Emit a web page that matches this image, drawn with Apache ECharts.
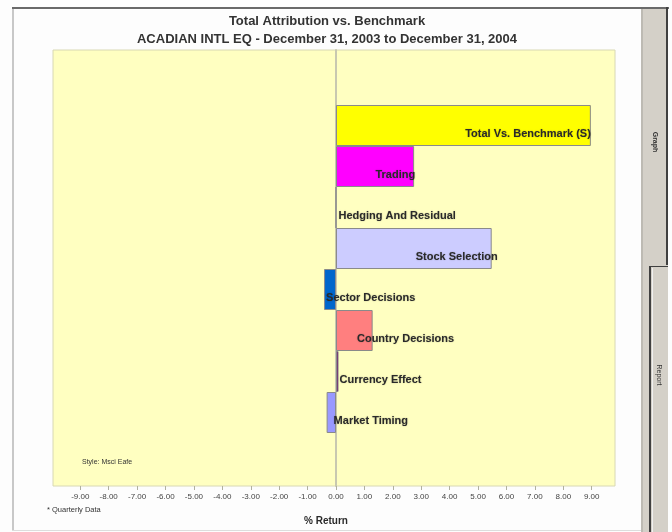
<!DOCTYPE html>
<html>
<head>
<meta charset="utf-8">
<script src="https://cdn.jsdelivr.net/npm/echarts@6/dist/echarts.min.js"></script>
<style>
html,body{margin:0;padding:0;background:#ffffff;}
#chart{width:672px;height:532px;}
</style>
</head>
<body>
<div id="chart"></div>
<script>
// ---- data ----
const titleLine1 = 'Total Attribution vs. Benchmark';
const titleLine2 = 'ACADIAN INTL EQ - December 31, 2003 to December 31, 2004';
const categories = ['Total Vs. Benchmark (S)', 'Trading', 'Hedging And Residual', 'Stock Selection',
  'Sector Decisions', 'Country Decisions', 'Currency Effect', 'Market Timing'];
const values = [8.97, 2.75, 0, 5.48, -0.42, 1.29, 0.09, -0.33];
const tickValues = [-9, -8, -7, -6, -5, -4, -3, -2, -1, 0, 1, 2, 3, 4, 5, 6, 7, 8, 9];
const axisTitle = '% Return';
const footNote = '* Quarterly Data';
const styleNote = 'Style: Msci Eafe';
const tabLabels = ['Graph', 'Report'];

// ---- styles (kept separate from data) ----
const barColors = ['#FFFF00', '#FF00FF', '#CCCCFF', '#CCCCFF', '#0066CC', '#FF7F7F', '#660066', '#9999FF'];
const labelPlacement = [
  {position: ['100%', '70%'], align: 'right', offset: [0, 0]},
  {position: ['100%', '70%'], align: 'right', offset: [1, 0]},
  {position: ['0%', '70%'], align: 'left', offset: [3, 0]},
  {position: ['100%', '70%'], align: 'right', offset: [6, 0]},
  {position: [2, '70%'], align: 'left', offset: [0, 0]},
  {position: [21, '70%'], align: 'left', offset: [0, 0]},
  {position: ['100%', '70%'], align: 'left', offset: [1, 0]},
  {position: [7, '70%'], align: 'left', offset: [0, 0]}
];
const FONT = 'Liberation Sans, Arial, sans-serif';
const X_MIN = -9.96, X_MAX = 9.82;

const barData = values.map((v, i) => ({
  value: v,
  itemStyle: {color: barColors[i]},
  label: {
    show: true,
    formatter: categories[i],
    position: labelPlacement[i].position,
    align: labelPlacement[i].align,
    verticalAlign: 'middle',
    offset: labelPlacement[i].offset,
    fontFamily: FONT,
    fontWeight: 'bold',
    fontSize: 11,
    color: '#2a2a2a',
    textShadowColor: 'rgba(0,0,0,0.3)',
    textShadowBlur: 1.5
  }
}));

const chart = echarts.init(document.getElementById('chart'), null, {renderer: 'canvas'});
const option = {
  animation: false,
  backgroundColor: '#FDFDFD',
  title: [
    {text: titleLine1, left: 322, top: 10, textAlign: 'center',
      textStyle: {fontFamily: FONT, fontSize: 13, fontWeight: 'bold', color: '#333'}},
    {text: titleLine2, left: 322, top: 28, textAlign: 'center',
      textStyle: {fontFamily: FONT, fontSize: 13, fontWeight: 'bold', color: '#333'}}
  ],
  grid: [
    {left: 53, right: 57, top: 50, bottom: 46, show: true, backgroundColor: '#FFFFC1',
      borderColor: '#D8D8B4', borderWidth: 1},
    {left: 53, right: 57, top: 105, bottom: 99}
  ],
  xAxis: [
    {gridIndex: 0, type: 'value', min: X_MIN, max: X_MAX, position: 'bottom',
      axisLine: {show: false},
      axisTick: {show: true, inside: false, length: 4, customValues: tickValues,
        lineStyle: {color: '#B0B0A0'}},
      axisLabel: {show: true, customValues: tickValues, margin: 7,
        formatter: v => v.toFixed(2), fontFamily: FONT, fontSize: 8, color: '#444'},
      splitLine: {show: false}
    },
    {gridIndex: 1, type: 'value', min: X_MIN, max: X_MAX, show: false}
  ],
  yAxis: [
    {gridIndex: 0, type: 'value', min: 0, max: 1, axisLabel: {show: false}, axisTick: {show: false},
      splitLine: {show: false},
      axisLine: {show: true, onZero: true, lineStyle: {color: '#C8C8B0', width: 2}}},
    {gridIndex: 1, type: 'category', data: categories, inverse: true, show: false}
  ],
  series: [
    {type: 'bar', xAxisIndex: 1, yAxisIndex: 1, data: barData, barCategoryGap: 0, barGap: 0,
      itemStyle: {borderColor: '#8A8A8A', borderWidth: 1}, z: 5}
  ],
  graphic: [
    // outer frame
    {type: 'rect', shape: {x: 12, y: 7, width: 657, height: 2}, style: {fill: '#6A6A6A'}, silent: true},
    {type: 'rect', shape: {x: 12, y: 9, width: 2, height: 522}, style: {fill: '#C8C8C8'}, silent: true},
    {type: 'rect', shape: {x: 12, y: 530, width: 630, height: 1}, style: {fill: '#DDDDDD'}, silent: true},
    // tabs
    {type: 'rect', shape: {x: 641, y: 9, width: 27, height: 523}, style: {fill: '#D4D0C8'}, silent: true},
    {type: 'rect', shape: {x: 641, y: 9, width: 2, height: 523}, style: {fill: '#BDBAB3'}, silent: true},
    {type: 'rect', shape: {x: 666, y: 7, width: 2, height: 258}, style: {fill: '#404040'}, silent: true},
    {type: 'rect', shape: {x: 649, y: 266, width: 19, height: 1}, style: {fill: '#404040'}, silent: true},
    {type: 'rect', shape: {x: 649, y: 266, width: 2, height: 266}, style: {fill: '#404040'}, silent: true},
    {type: 'rect', shape: {x: 652, y: 268, width: 1, height: 264}, style: {fill: '#F0F0F0'}, silent: true},
    {type: 'text', x: 655, y: 142, rotation: -Math.PI / 2,
      style: {text: tabLabels[0], fontFamily: FONT, fontSize: 7, fontWeight: 'bold', fill: '#333',
        align: 'center', verticalAlign: 'middle'}},
    {type: 'text', x: 659, y: 375, rotation: -Math.PI / 2,
      style: {text: tabLabels[1], fontFamily: FONT, fontSize: 7, fill: '#333',
        align: 'center', verticalAlign: 'middle'}},
    // notes and axis title
    {type: 'text', x: 82, y: 462,
      style: {text: styleNote, fontFamily: FONT, fontSize: 7, fill: '#333', verticalAlign: 'middle'}},
    {type: 'text', x: 47, y: 510,
      style: {text: footNote, fontFamily: FONT, fontSize: 7.5, fill: '#333', verticalAlign: 'middle'}},
    {type: 'text', x: 326, y: 521,
      style: {text: axisTitle, fontFamily: FONT, fontSize: 10, fontWeight: 'bold', fill: '#2a2a2a',
        align: 'center', verticalAlign: 'middle'}}
  ]
};
chart.setOption(option);
</script>
</body>
</html>
